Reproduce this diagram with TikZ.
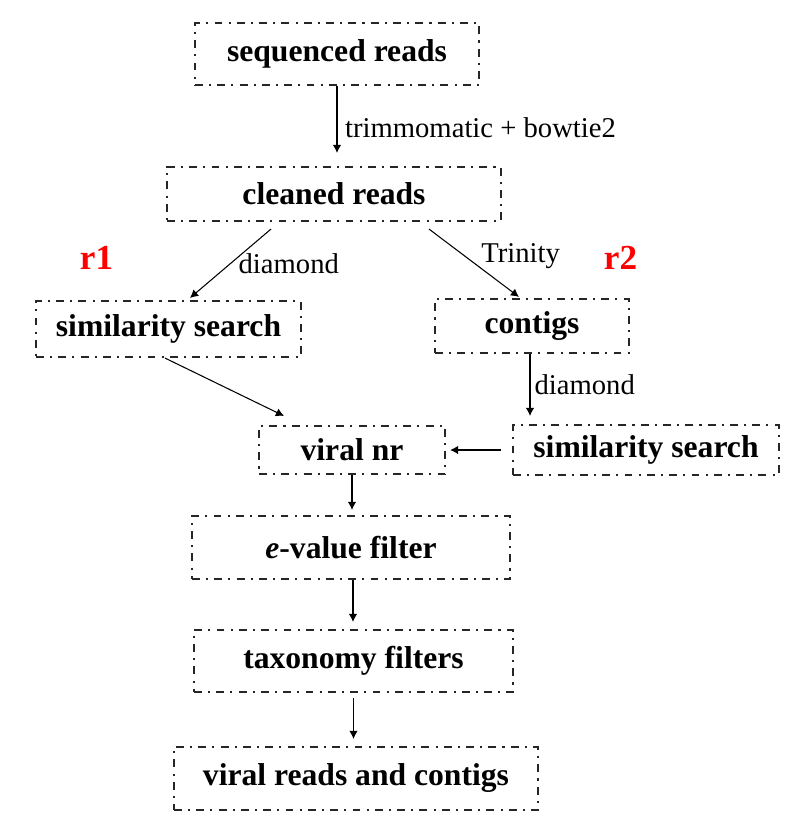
\documentclass[tikz,border=0pt]{standalone}
\usepackage{fontspec}
\setmainfont{Liberation Serif}
\usetikzlibrary{calc,arrows.meta}

\begin{document}
\begin{tikzpicture}[>={Latex[length=4.6pt,width=4.8pt]},
    box/.style={draw=black!85, line width=1.2pt, dash pattern=on 4.5pt off 3.5pt on 1.2pt off 3.5pt,
        font=\fontsize{18}{21}\selectfont\bfseries, inner sep=0pt},
    lab/.style={font=\fontsize{16.3}{19}\selectfont},
    tag/.style={font=\fontsize{20}{24}\selectfont\bfseries, text=red},
    every path/.style={line width=0.6pt}]
    \useasboundingbox (0,0) rectangle (15.96,-16.5);
    \node[box, minimum width=5.68cm, minimum height=1.24cm] (sr) at (6.74,-1.08) {sequenced reads};
    \node[box, minimum width=6.68cm, minimum height=1.08cm] (cr) at (6.68,-3.88) {cleaned reads};
    \node[box, minimum width=5.30cm, minimum height=1.12cm] (ss1) at (3.37,-6.58) {similarity search};
    \node[box, minimum width=3.88cm, minimum height=1.08cm] (ct) at (10.64,-6.52) {contigs};
    \node[box, minimum width=3.72cm, minimum height=0.96cm] (vnr) at (7.04,-9.0) {viral nr};
    \node[box, minimum width=5.32cm, minimum height=1.0cm] (ss2) at (12.92,-9.0) {similarity search};
    \node[box, minimum width=6.36cm, minimum height=1.26cm] (ev) at (7.02,-10.95) {\textit{e}-value filter};
    \node[box, minimum width=6.38cm, minimum height=1.24cm] (tx) at (7.07,-13.22) {taxonomy filters};
    \node[box, minimum width=7.28cm, minimum height=1.26cm] (vrc) at (7.12,-15.57) {viral reads and contigs};
    \node[tag] (r1) at (1.93,-5.16) {r1};
    \node[tag] (r2) at (12.41,-5.16) {r2};
    \draw[->] (sr.south) -- ([yshift=0.26cm]sr.south |- cr.north) node[pos=0.62,right=1pt,lab] {trimmomatic + bowtie2};
    \draw[->] ([shift={(-1.26,-0.14)}]cr.south) -- ([shift={(0.43,0.04)}]ss1.north) node[midway,right=1pt,lab] {diamond};
    \draw[->] ([shift={(1.90,-0.14)}]cr.south) -- ([shift={(-0.26,0.02)}]ct.north) node[pos=0.4,right=2mm,lab] {Trinity};
    \draw[->] ([xshift=-0.07cm]ss1.south) -- ([shift={(-1.36,0.18)}]vnr.north);
    \draw[->] ([xshift=-0.04cm]ct.south) -- ([shift={(-0.04,0.16)}]ct.south |- ss2.north) node[midway,right=-1pt,lab] {diamond};
    \draw[->] ([xshift=-0.22cm]ss2.west) -- ([xshift=0.08cm]vnr.east);
    \draw[->] (vnr.south) -- ([yshift=0.1cm]vnr.south |- ev.north);
    \draw[->] ([xshift=0.04cm]ev.south) -- ([shift={(0.04,0.14)}]ev.south |- tx.north);
    \draw[->] ([yshift=-0.1cm]tx.south) -- ([yshift=0.14cm]tx.south |- vrc.north);
\end{tikzpicture}
\end{document}
